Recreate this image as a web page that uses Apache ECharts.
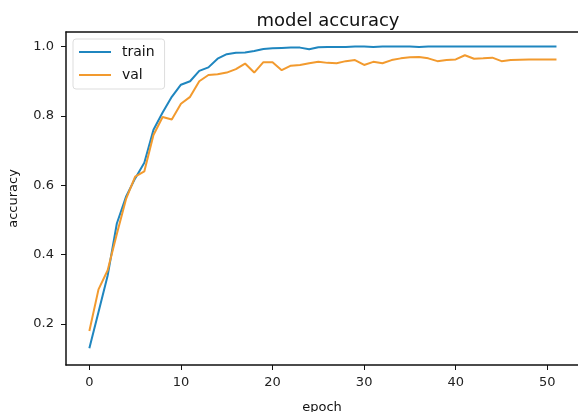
<!DOCTYPE html>
<html>
<head>
<meta charset="utf-8">
<script src="https://cdn.jsdelivr.net/npm/echarts@6/dist/echarts.min.js"></script>
<style>
  html, body { margin: 0; padding: 0; background: #fff; }
  #chart { width: 578px; height: 412px; }
</style>
</head>
<body>
<div id="chart"></div>
<script>
  // epochs 0..51
  var epochs = []
  for (var i = 0; i < 52; i++) epochs.push(i)

  var train = [0.13, 0.235, 0.34, 0.49, 0.567, 0.62, 0.665, 0.76, 0.81, 0.855,
    0.89, 0.90, 0.93, 0.94, 0.965, 0.978, 0.982, 0.983, 0.987, 0.993,
    0.995, 0.996, 0.997, 0.997, 0.992, 0.998, 0.999, 0.999, 0.999, 1.0,
    1.0, 0.999, 1.0, 1.0, 1.0, 1.0, 0.999, 1.0, 1.0, 1.0,
    1.0, 1.0, 1.0, 1.0, 1.0, 1.0, 1.0, 1.0, 1.0, 1.0,
    1.0, 1.0]

  var val = [0.18, 0.30, 0.355, 0.46, 0.56, 0.625, 0.64, 0.745, 0.797, 0.79,
    0.835, 0.855, 0.90, 0.918, 0.92, 0.925, 0.935, 0.951, 0.925, 0.955,
    0.955, 0.932, 0.945, 0.947, 0.952, 0.956, 0.953, 0.952, 0.958, 0.961,
    0.947, 0.956, 0.952, 0.961, 0.966, 0.969, 0.970, 0.966, 0.958, 0.961,
    0.963, 0.975, 0.965, 0.966, 0.968, 0.958, 0.961, 0.962, 0.963, 0.963,
    0.963, 0.963]

  var xTicks = [0, 10, 20, 30, 40, 50]
  var yTicks = [0.2, 0.4, 0.6, 0.8, 1.0]

  var font = 'DejaVu Sans'
  var xMin = -2.55, xMax = 53.35
  var chart = echarts.init(document.getElementById('chart'))

  function pairs(ys) {
    return ys.map(function (y, i) { return [epochs[i], y] })
  }

  chart.setOption({
    backgroundColor: '#fff',
    animation: false,
    title: {
      text: 'model accuracy',
      left: 323,
      top: 7,
      textAlign: 'center',
      textStyle: { fontFamily: font, fontSize: 18, fontWeight: 'normal', color: '#111' }
    },
    grid: { left: 66, right: 0, top: 32, bottom: 47, outerBoundsMode: 'none' },
    legend: {
      orient: 'vertical',
      left: 73,
      top: 39,
      padding: [6, 10, 7, 6],
      itemGap: 9,
      itemWidth: 32,
      itemHeight: 2,
      icon: 'rect',
      backgroundColor: '#fff',
      borderColor: '#ddd',
      borderWidth: 1,
      borderRadius: 3,
      textStyle: { fontFamily: font, fontSize: 14, color: '#111', padding: [0, 0, 0, 6] },
      data: ['train', 'val']
    },
    xAxis: [{
      type: 'value',
      min: xMin,
      max: xMax,
      name: 'epoch',
      nameLocation: 'middle',
      nameGap: 36,
      nameTextStyle: { fontFamily: font, fontSize: 13, color: '#111' },
      splitLine: { show: false },
      axisLine: { show: true, onZero: false, lineStyle: { color: '#111', width: 1.5 } },
      axisTick: { show: true, length: 5, customValues: xTicks, lineStyle: { color: '#111' } },
      axisLabel: {
        customValues: xTicks, fontFamily: font, fontSize: 13, color: '#222', margin: 11
      }
    }, {
      // top spine only
      type: 'value',
      position: 'top',
      min: xMin,
      max: xMax,
      splitLine: { show: false },
      axisLine: { show: true, onZero: false, lineStyle: { color: '#111', width: 1.5 } },
      axisTick: { show: false },
      axisLabel: { show: false }
    }],
    yAxis: {
      type: 'value',
      min: 0.082,
      max: 1.042,
      name: 'accuracy',
      nameLocation: 'middle',
      nameGap: 46,
      nameTextStyle: { fontFamily: font, fontSize: 13, color: '#111' },
      splitLine: { show: false },
      axisLine: { show: true, onZero: false, lineStyle: { color: '#111', width: 1.5 } },
      axisTick: { show: true, length: 5, customValues: yTicks, lineStyle: { color: '#111' } },
      axisLabel: {
        customValues: yTicks, fontFamily: font, fontSize: 13, color: '#222', margin: 12,
        formatter: function (v) { return v.toFixed(1) }
      }
    },
    series: [
      {
        name: 'train', type: 'line', data: pairs(train), symbol: 'none',
        itemStyle: { color: '#1f86bf' },
        lineStyle: { color: '#1f86bf', width: 2 }
      },
      {
        name: 'val', type: 'line', data: pairs(val), symbol: 'none',
        itemStyle: { color: '#f29a2e' },
        lineStyle: { color: '#f29a2e', width: 2 }
      }
    ]
  })
</script>
</body>
</html>
